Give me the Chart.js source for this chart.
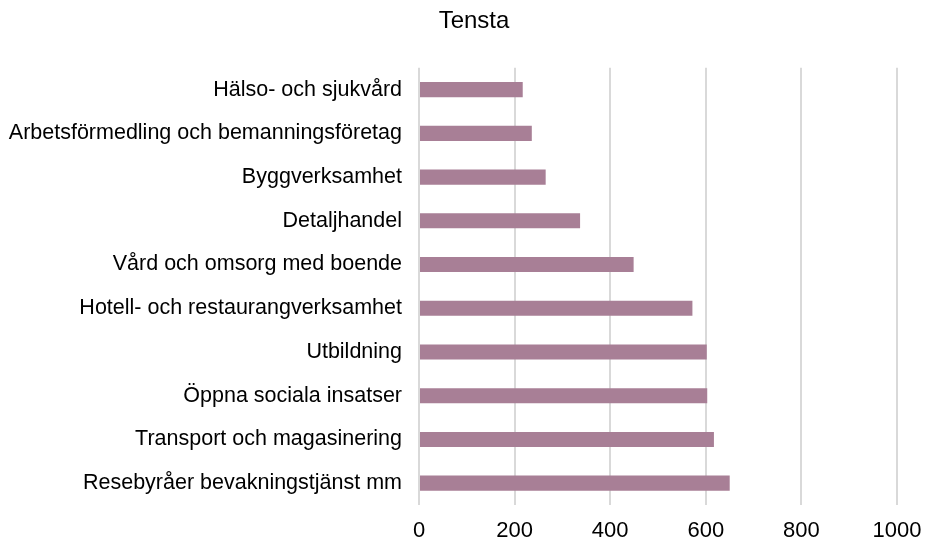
<!DOCTYPE html>
<html>
<head>
<meta charset="utf-8">
<title>Tensta</title>
<script src="https://cdn.jsdelivr.net/npm/chart.js@4/dist/chart.umd.min.js"></script>
<style>
  html, body { margin: 0; padding: 0; background: #fff; }
  #wrap { width: 927px; height: 542px; }
</style>
</head>
<body>
<div id="wrap"><canvas id="chart" width="927" height="542"></canvas></div>
<script>
const categories = [
    'Hälso- och sjukvård',
    'Arbetsförmedling och bemanningsföretag',
    'Byggverksamhet',
    'Detaljhandel',
    'Vård och omsorg med boende',
    'Hotell- och restaurangverksamhet',
    'Utbildning',
    'Öppna sociala insatser',
    'Transport och magasinering',
    'Resebyråer bevakningstjänst mm'
];
const values = [217, 236, 265, 337, 449, 572, 602, 603, 617, 650];
const xTicks = [0, 200, 400, 600, 800, 1000];

const barColor = '#a87f96';
const font = 'Arial, "Liberation Sans", sans-serif';

// nudge the title so it sits a bit right of the canvas centre
const titleShift = {
    id: 'titleShift',
    afterLayout(chart) {
        chart.titleBlock.left += 51;
    }
};

const ctx = document.getElementById('chart').getContext('2d');
new Chart(ctx, {
    type: 'bar',
    data: {
        labels: categories,
        datasets: [{
            data: values,
            backgroundColor: barColor,
            borderWidth: 0,
            categoryPercentage: 1,
            barPercentage: 0.345
        }]
    },
    plugins: [titleShift],
    options: {
        indexAxis: 'y',
        responsive: false,
        animation: false,
        layout: { padding: { left: 0, right: 30, top: 7, bottom: 0 } },
        plugins: {
            legend: { display: false },
            tooltip: { enabled: false },
            title: {
                display: true,
                text: 'Tensta',
                color: '#000',
                font: { family: font, size: 24, weight: 'normal' },
                padding: { top: 0, bottom: 32 }
            }
        },
        scales: {
            x: {
                min: 0,
                max: 1000,
                afterBuildTicks: scale => {
                    scale.ticks = xTicks.map(v => ({ value: v }));
                },
                afterFit: scale => {
                    scale.height = 37;
                    scale.paddingRight = 30;
                },
                border: { display: false },
                grid: { color: '#d9d9d9', lineWidth: 2, drawTicks: false },
                ticks: {
                    color: '#000',
                    padding: 13,
                    font: { family: font, size: 22 },
                    callback: v => String(v)
                }
            },
            y: {
                border: { display: false },
                grid: { display: false, drawTicks: false },
                afterFit: scale => { scale.width = 419; },
                ticks: {
                    color: '#000',
                    padding: 17,
                    autoSkip: false,
                    font: { family: font, size: 21.5 }
                }
            }
        }
    }
});
</script>
</body>
</html>
